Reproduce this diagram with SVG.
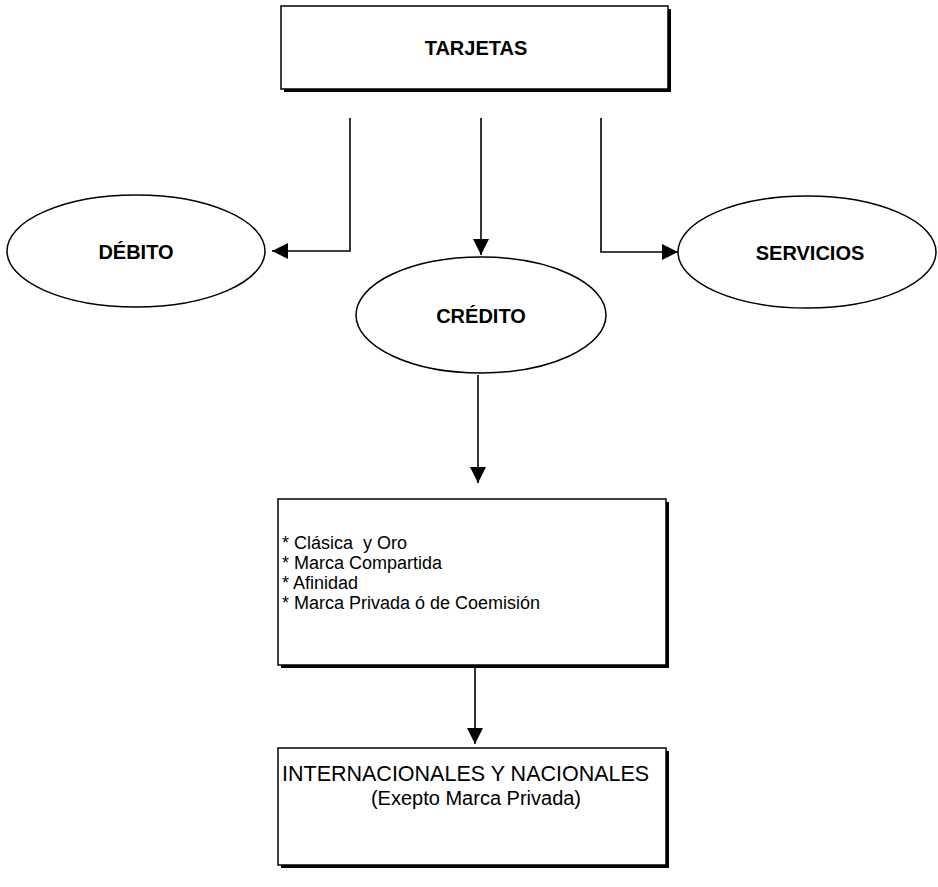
<svg xmlns="http://www.w3.org/2000/svg" width="938" height="887" viewBox="0 0 938 887">
<style>
.box{fill:#fff;stroke:#000;stroke-width:1.5}
.shadow{fill:#000}
.ell{fill:#fff;stroke:#000;stroke-width:1.5}
.lbl{font-family:"Liberation Sans",Arial,sans-serif;font-weight:bold;font-size:20px;fill:#000;text-anchor:middle}
.txt{font-family:"Liberation Sans",Arial,sans-serif;font-size:18px;fill:#000}
.txt2{font-family:"Liberation Sans",Arial,sans-serif;font-size:21.5px;fill:#000}
.con{fill:none;stroke:#000;stroke-width:1.6}
</style>
<defs>
<marker id="arr" markerWidth="16" markerHeight="16" refX="16" refY="8" orient="auto" markerUnits="userSpaceOnUse">
<path d="M0,0 L16,8 L0,16 Z" fill="#000"/>
</marker>
</defs>
<rect width="938" height="887" fill="#fff"/>
<g id="tarjetas">
<rect class="shadow" x="284" y="9" width="387" height="83"/>
<rect class="box" x="281" y="6" width="387" height="83"/>
<text class="lbl" x="476" y="55">TARJETAS</text>
</g>
<g id="debito">
<ellipse class="ell" cx="136" cy="251" rx="129" ry="56"/>
<text class="lbl" x="136" y="259">DÉBITO</text>
</g>
<g id="credito">
<ellipse class="ell" cx="481" cy="315" rx="125" ry="58"/>
<text class="lbl" x="481" y="323">CRÉDITO</text>
</g>
<g id="servicios">
<ellipse class="ell" cx="807" cy="252" rx="129" ry="56"/>
<text class="lbl" x="810" y="260">SERVICIOS</text>
</g>
<g id="tipos">
<rect class="shadow" x="281" y="502" width="388" height="166"/>
<rect class="box" x="278" y="499" width="388" height="166"/>
<text class="txt" xml:space="preserve"><tspan x="282" y="549">* Clásica  y Oro</tspan><tspan x="282" y="569">* Marca Compartida</tspan><tspan x="282" y="589">* Afinidad</tspan><tspan x="282" y="609">* Marca Privada ó de Coemisión</tspan></text>
</g>
<g id="internacionales">
<rect class="shadow" x="281" y="751" width="388" height="117"/>
<rect class="box" x="278" y="748" width="388" height="117"/>
<text class="txt2" x="282" y="781">INTERNACIONALES Y NACIONALES</text>
<text class="txt2" x="476" y="805" text-anchor="middle" style="font-size:20px">(Exepto Marca Privada)</text>
</g>
<g id="connectors">
<path class="con" d="M350,118 V251 H272" marker-end="url(#arr)"/>
<path class="con" d="M481,118 V255" marker-end="url(#arr)"/>
<path class="con" d="M601,118 V252 H678" marker-end="url(#arr)"/>
<path class="con" d="M478,375 V483" marker-end="url(#arr)"/>
<path class="con" d="M475,665 V744" marker-end="url(#arr)"/>
</g>
</svg>
